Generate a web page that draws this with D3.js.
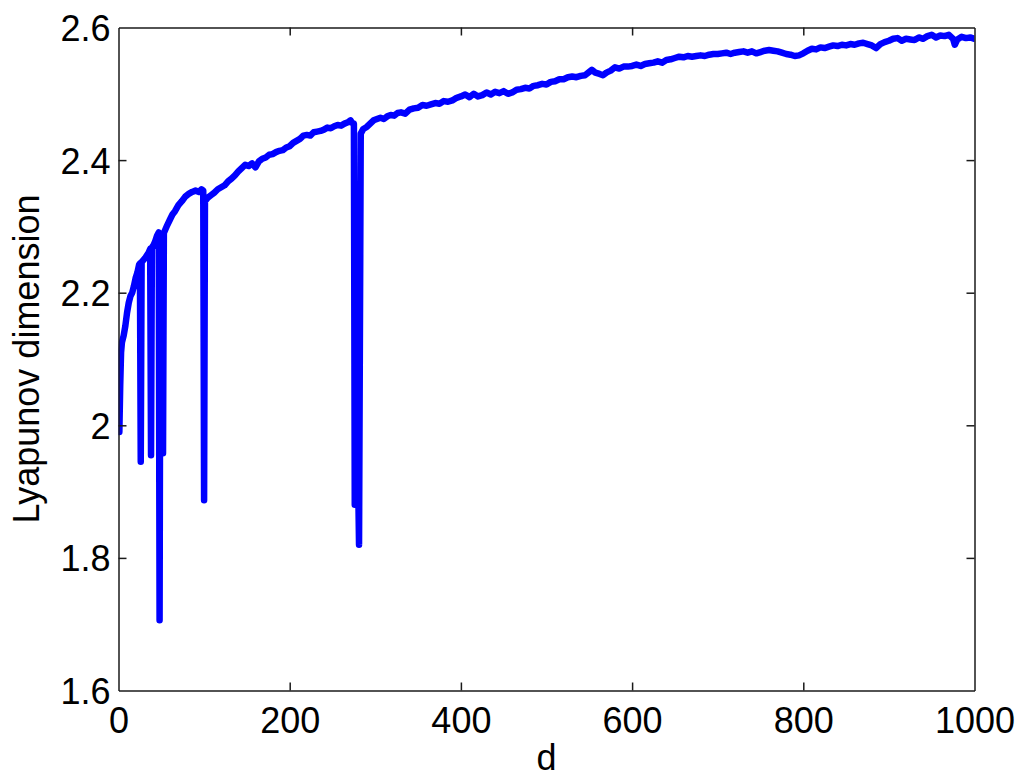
<!DOCTYPE html>
<html>
<head>
<meta charset="utf-8">
<script src="https://cdn.jsdelivr.net/npm/d3@7"></script>
<style>
  html, body { margin: 0; padding: 0; background: #fff; }
  svg { display: block; }
  text { font-family: "Liberation Sans", Arial, Helvetica, sans-serif; fill: #000; }
</style>
</head>
<body>
<svg id="chart" width="1024" height="781"></svg>
<script>
// ---- data ----
const dSteps = [1,2,3,4,6,8,10,12,14,16,18,20,22,24,25,26,27,29,31,33,35,37,38,39,41,43,45,47,48,49,51,52,53,55,57,60,63,66,70,74,78,82,86,90,94,97,99,100,101,104,108,112,116,120,124,128,132,136,140,144,148,152,156,160,164,168,172,176,180,184,188,192,196,200,204,208,212,216,220,224,228,232,236,240,244,248,252,256,260,264,268,271,273,275,276,278,281,283,286,290,294,298,302,306,310,314,318,322,326,330,335,340,345,350,355,360,365,370,375,380,385,390,395,400,405,410,415,420,425,430,435,440,445,450,455,460,465,470,475,480,485,490,495,500,505,510,515,520,525,530,535,540,545,550,553,557,562,566,570,575,580,585,590,595,600,605,610,615,620,625,630,635,640,645,650,655,660,665,670,675,680,685,690,695,700,705,710,715,720,725,730,735,740,745,750,755,760,765,770,775,780,785,790,795,800,805,810,815,820,825,830,835,840,845,850,855,860,865,870,875,880,885,890,895,900,905,910,915,920,925,930,935,940,945,950,955,960,965,970,975,977,980,985,990,995,1000];
const lyapDim = [1.99,2.06,2.11,2.125,2.135,2.15,2.17,2.185,2.195,2.2,2.21,2.222,2.23,2.242,2.244,1.945,2.246,2.249,2.252,2.256,2.26,2.266,1.955,2.268,2.272,2.278,2.286,2.291,1.706,2.289,2.287,1.958,2.29,2.296,2.302,2.31,2.318,2.323,2.332,2.338,2.345,2.349,2.352,2.354,2.352,2.356,2.354,1.887,2.338,2.343,2.347,2.351,2.356,2.359,2.362,2.368,2.372,2.377,2.383,2.388,2.393,2.391,2.395,2.389,2.398,2.402,2.404,2.408,2.409,2.412,2.414,2.415,2.419,2.421,2.426,2.429,2.432,2.437,2.438,2.437,2.442,2.443,2.444,2.446,2.449,2.448,2.451,2.453,2.452,2.455,2.457,2.46,2.456,2.455,1.88,2.09,1.82,2.44,2.447,2.45,2.455,2.46,2.462,2.464,2.462,2.466,2.468,2.467,2.471,2.472,2.47,2.476,2.478,2.479,2.483,2.482,2.484,2.486,2.485,2.489,2.488,2.49,2.494,2.496,2.499,2.495,2.5,2.496,2.498,2.502,2.499,2.503,2.501,2.504,2.5,2.502,2.506,2.507,2.509,2.508,2.512,2.513,2.515,2.514,2.518,2.519,2.522,2.522,2.525,2.526,2.525,2.527,2.528,2.533,2.536,2.532,2.53,2.528,2.532,2.535,2.54,2.538,2.541,2.541,2.542,2.544,2.542,2.545,2.546,2.547,2.549,2.547,2.551,2.552,2.554,2.556,2.555,2.557,2.556,2.557,2.558,2.557,2.559,2.56,2.56,2.561,2.562,2.56,2.562,2.563,2.564,2.562,2.564,2.561,2.563,2.565,2.566,2.565,2.564,2.562,2.56,2.559,2.557,2.558,2.561,2.565,2.568,2.567,2.57,2.569,2.571,2.573,2.572,2.574,2.573,2.575,2.574,2.576,2.577,2.575,2.573,2.569,2.575,2.578,2.58,2.583,2.584,2.58,2.583,2.582,2.581,2.585,2.583,2.587,2.589,2.585,2.588,2.587,2.589,2.583,2.574,2.582,2.586,2.584,2.585,2.583];
const xTicks = [0,200,400,600,800,1000];
const yTicks = [1.6,1.8,2,2.2,2.4,2.6];
const xLabel = "d";
const yLabel = "Lyapunov dimension";

// ---- layout ----
const svg = d3.select("#chart");
const L = 118.5, R = 974.5, T = 27.5, B = 690.5;
const x = d3.scaleLinear().domain([0, 1000]).range([L, R]);
const y = d3.scaleLinear().domain([1.6, 2.6]).range([B, T]);
const tickLen = 8;
const fontSize = 36;
const axisColor = "#1a1a1a";

svg.append("clipPath").attr("id", "clip")
  .append("rect").attr("x", L).attr("y", T).attr("width", R - L).attr("height", B - T);

const pts = dSteps.map((d, i) => [d, lyapDim[i]]);
const line = d3.line().x(d => x(d[0])).y(d => y(d[1]));
svg.append("path")
  .datum(pts)
  .attr("clip-path", "url(#clip)")
  .attr("d", line)
  .attr("fill", "none")
  .attr("stroke", "#0000ff")
  .attr("stroke-width", 6.5)
  .attr("stroke-linejoin", "round")
  .attr("stroke-linecap", "round");

const xAxisB = d3.axisBottom(x).tickValues(xTicks).tickSizeInner(-tickLen).tickSizeOuter(0).tickFormat(d3.format("d"));
const xAxisT = d3.axisTop(x).tickValues(xTicks).tickSizeInner(-tickLen).tickSizeOuter(0).tickFormat("");
const yAxisL = d3.axisLeft(y).tickValues(yTicks).tickSizeInner(-tickLen).tickSizeOuter(0).tickFormat(d3.format("~g"));
const yAxisR = d3.axisRight(y).tickValues(yTicks).tickSizeInner(-tickLen).tickSizeOuter(0).tickFormat("");

function style(g) {
  g.selectAll("path.domain").attr("stroke", axisColor).attr("stroke-width", 1.5);
  g.selectAll(".tick line").attr("stroke", axisColor).attr("stroke-width", 1.5);
  g.selectAll(".tick text").attr("font-size", fontSize)
    .attr("font-family", '"Liberation Sans", Arial, Helvetica, sans-serif').attr("fill", "#000");
}

const gB = svg.append("g").attr("transform", `translate(0,${B})`).call(xAxisB).call(style);
gB.selectAll(".tick text").attr("y", 42).attr("dy", 0);
gB.selectAll(".tick line").filter(d => d === 0 || d === 1000).remove();

const gT = svg.append("g").attr("transform", `translate(0,${T})`).call(xAxisT).call(style);
gT.selectAll(".tick line").filter(d => d === 0 || d === 1000).remove();

const gL = svg.append("g").attr("transform", `translate(${L},0)`).call(yAxisL).call(style);
gL.selectAll(".tick text").attr("x", -8).attr("dy", "0.36em");
gL.selectAll(".tick line").filter(d => d === 1.6 || d === 2.6).remove();

const gR = svg.append("g").attr("transform", `translate(${R},0)`).call(yAxisR).call(style);
gR.selectAll(".tick line").filter(d => d === 1.6 || d === 2.6).remove();

svg.append("text")
  .attr("x", (L + R) / 2).attr("y", 770)
  .attr("text-anchor", "middle").attr("font-size", fontSize)
  .text(xLabel);

svg.append("text")
  .attr("transform", `translate(39,${(T + B) / 2}) rotate(-90)`)
  .attr("text-anchor", "middle").attr("font-size", fontSize)
  .text(yLabel);
</script>
</body>
</html>
